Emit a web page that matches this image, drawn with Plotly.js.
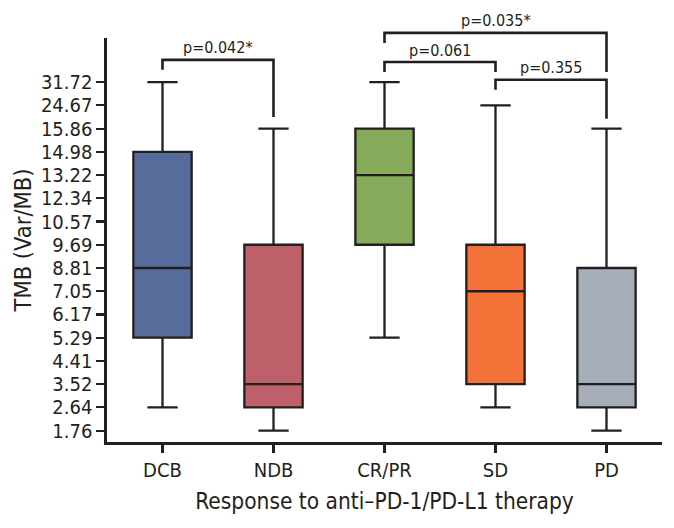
<!DOCTYPE html>
<html>
<head>
<meta charset="utf-8">
<script src="https://cdn.plot.ly/plotly-3.0.1.min.js"></script>
<style>html,body{margin:0;padding:0;background:#fff;}#chart{width:674px;height:528px;}</style>
</head>
<body>
<div id="chart"></div>
<script>
// ---- data ----
const categories = ["DCB", "NDB", "CR/PR", "SD", "PD"];
const tickLabels = ["1.76","2.64","3.52","4.41","5.29","6.17","7.05","8.81","9.69","10.57","12.34","13.22","14.98","15.86","24.67","31.72"];
const lowerWhisker = ["2.64", "1.76", "5.29", "2.64", "1.76"];
const q1Values     = ["5.29", "2.64", "9.69", "3.52", "2.64"];
const medianValues = ["8.81", "3.52", "13.22", "7.05", "3.52"];
const q3Values     = ["14.98", "9.69", "15.86", "9.69", "8.81"];
const upperWhisker = ["31.72", "15.86", "31.72", "24.67", "15.86"];
const boxColors = ["#566d9b", "#bd606a", "#84aa5a", "#f37238", "#a6aeb9"];
const comparisons = [
  {from: "DCB", to: "NDB", label: "p=0.042*"},
  {from: "CR/PR", to: "SD", label: "p=0.061"},
  {from: "SD", to: "PD", label: "p=0.355"},
  {from: "CR/PR", to: "PD", label: "p=0.035*"}
];

// ---- helpers ----
const pos = v => tickLabels.indexOf(v);   // equally spaced (rank) axis
const FONT = "'Liberation Sans Narrow', 'DejaVu Sans Condensed', 'Roboto Condensed', 'Arial Narrow', sans-serif";
const INK = "#231f20";
const yRange = [-0.49, 16.9];
const xRange = [-0.5, 4.5];

const traces = categories.map((c, i) => ({
  type: "box",
  name: c,
  x: [c],
  q1: [pos(q1Values[i])],
  median: [pos(medianValues[i])],
  q3: [pos(q3Values[i])],
  lowerfence: [pos(lowerWhisker[i])],
  upperfence: [pos(upperWhisker[i])],
  fillcolor: boxColors[i],
  line: {color: INK, width: 2.3},
  whiskerwidth: 0.52,
  width: 0.525,
  boxpoints: false,
  showlegend: false,
  hoverinfo: "skip"
}));

// bracket geometry (levels in y-axis units)
const bracketGeom = [
  {bar: 15.96, leftEnd: 15.53, rightEnd: 13.50, text: 16.50},
  {bar: 15.87, leftEnd: 15.44, rightEnd: 15.44, text: 16.38},
  {bar: 15.10, leftEnd: 14.67, rightEnd: 13.42, text: 15.61},
  {bar: 17.12, leftEnd: 16.69, rightEnd: 15.44, text: 17.64}
];
const px = c => (categories.indexOf(c) - xRange[0]) / (xRange[1] - xRange[0]);
const py = v => (v - yRange[0]) / (yRange[1] - yRange[0]);

const shapes = [];
const annotations = [];
comparisons.forEach((cmp, k) => {
  const g = bracketGeom[k];
  const x0 = px(cmp.from), x1 = px(cmp.to);
  const path = `M ${x0} ${py(g.leftEnd)} L ${x0} ${py(g.bar)} L ${x1} ${py(g.bar)} L ${x1} ${py(g.rightEnd)}`;
  shapes.push({type: "path", xref: "paper", yref: "paper", path: path,
    line: {color: INK, width: 2.6}});
  annotations.push({xref: "paper", yref: "paper", x: (x0 + x1) / 2, y: py(g.text),
    text: cmp.label, showarrow: false, xanchor: "center", yanchor: "middle",
    font: {family: FONT, size: 16, color: INK}});
});

const layout = {
  width: 674, height: 528,
  margin: {l: 107, r: 12, t: 38, b: 86},
  paper_bgcolor: "#fff", plot_bgcolor: "#fff",
  font: {family: FONT, size: 20, color: INK},
  showlegend: false,
  boxmode: "overlay",
  xaxis: {
    type: "category", categoryarray: categories, range: xRange,
    showline: true, linecolor: INK, linewidth: 2.6,
    ticks: "outside", ticklen: 8, tickwidth: 2.2, tickcolor: INK,
    showgrid: false, zeroline: false,
    tickfont: {family: FONT, size: 20, color: INK},
    title: {text: "Response to anti\u2013PD-1/PD-L1 therapy", font: {family: FONT, size: 22.5, color: INK}, standoff: 13}
  },
  yaxis: {
    range: yRange, tickmode: "array",
    tickvals: tickLabels.map((t, i) => i), ticktext: tickLabels,
    showline: true, linecolor: INK, linewidth: 2.6,
    ticks: "outside", ticklen: 8, tickwidth: 2.2, tickcolor: INK,
    showgrid: false, zeroline: false,
    tickfont: {family: FONT, size: 20, color: INK},
    title: {text: "TMB (Var/MB)", font: {family: FONT, size: 23.5, color: INK}, standoff: 3}
  },
  shapes: shapes,
  annotations: annotations
};

Plotly.newPlot("chart", traces, layout, {staticPlot: true, displayModeBar: false});
</script>
</body>
</html>
